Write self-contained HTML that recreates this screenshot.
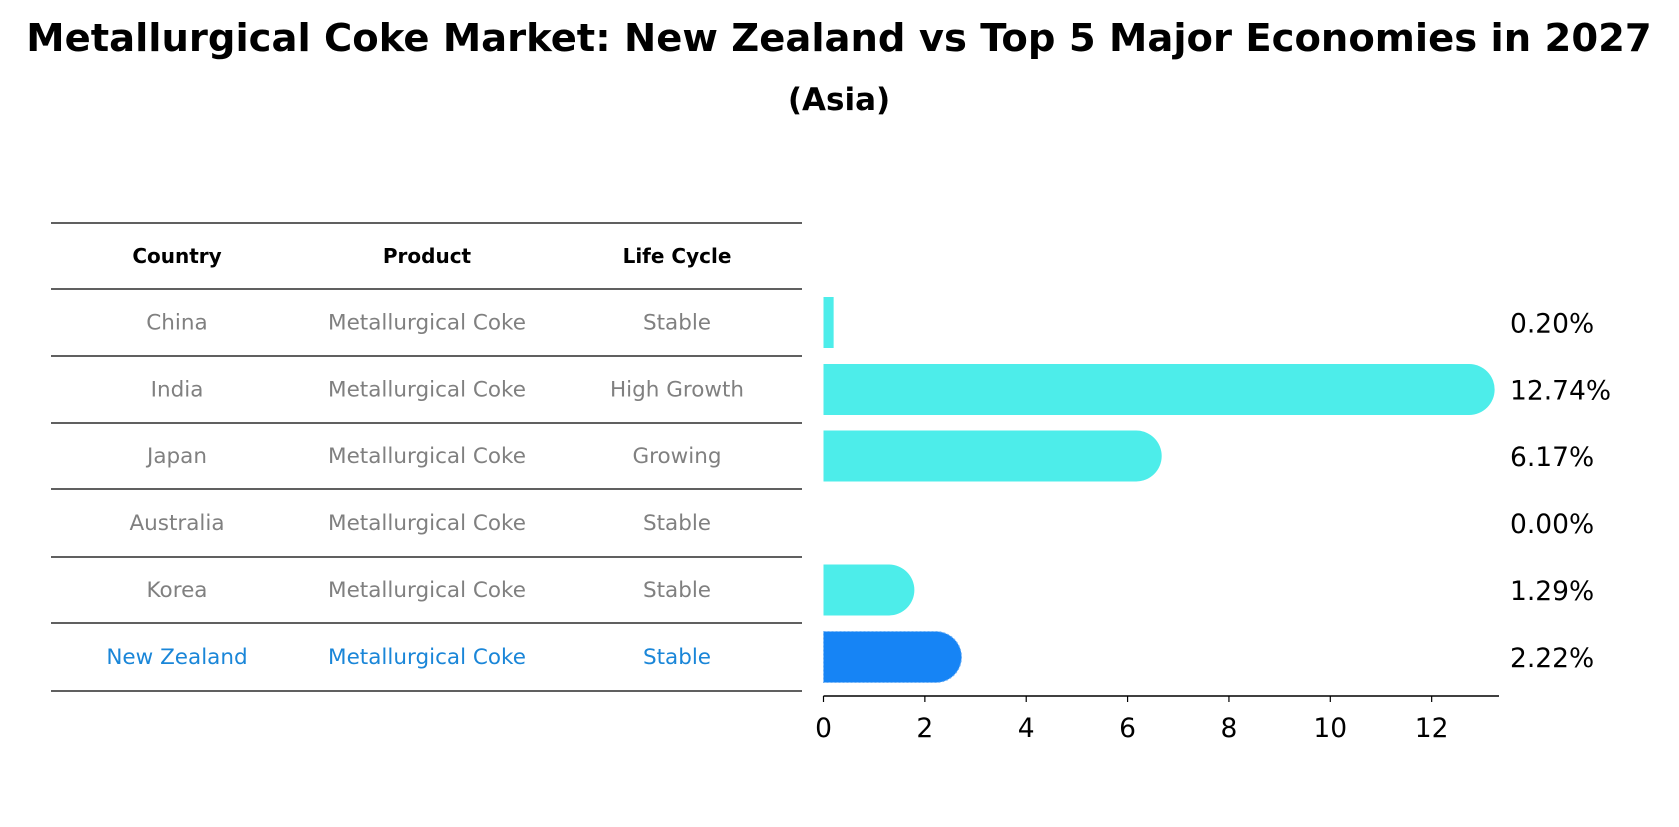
<!DOCTYPE html>
<html><head><meta charset="utf-8"><style>
html,body{margin:0;padding:0;background:#fff;}
body{width:1679px;height:823px;overflow:hidden;font-family:"DejaVu Sans","Liberation Sans",sans-serif;}
</style></head><body>
<svg id="chart" width="1679" height="823" xmlns="http://www.w3.org/2000/svg" font-family="DejaVu Sans, Liberation Sans, sans-serif">
<text x="839" y="51" text-anchor="middle" font-size="38.5" font-weight="bold">Metallurgical Coke Market: New Zealand vs Top 5 Major Economies in 2027</text>
<text x="839" y="110" text-anchor="middle" font-size="31" font-weight="bold">(Asia)</text>
<g id="table"></g>
<g id="bars"></g>
<g id="axis"></g>
</svg>
<script>
const countries = ["China","India","Japan","Australia","Korea","New Zealand"];
const products = ["Metallurgical Coke","Metallurgical Coke","Metallurgical Coke","Metallurgical Coke","Metallurgical Coke","Metallurgical Coke"];
const lifeCycles = ["Stable","High Growth","Growing","Stable","Stable","Stable"];
const values = [0.20, 12.74, 6.17, 0.00, 1.29, 2.22];
const tickLabels = [0,2,4,6,8,10,12];

const NS="http://www.w3.org/2000/svg";
const x0=823.5, unit=50.68, axisY=696, barH=51;
const xs=v=>x0+v*unit;
const lines=[223,289,356,423,489,557,623,691];
const rowY=i=>(lines[i+1]+lines[i+2])/2;
const colX=[177,427,677];
function mk(tag,attrs,parent){const e=document.createElementNS(NS,tag);for(const k in attrs)e.setAttribute(k,attrs[k]);parent.appendChild(e);return e;}
const table=document.getElementById('table');
lines.forEach((y,i)=>{
  const l=mk('line',{x1:51,x2:802,y1:y,y2:y,stroke:'#000','stroke-width':1.2},table);
  
  
});
["Country","Product","Life Cycle"].forEach((h,j)=>{
  const t=mk('text',{x:colX[j],y:(lines[0]+lines[1])/2+7,'text-anchor':'middle','font-size':20,'font-weight':'bold'},table);
  t.textContent=h;
  
  
});
countries.forEach((c,i)=>{
  const col=i===countries.length-1?'#1a86d8':'#808080';
  [c,products[i],lifeCycles[i]].forEach((s,j)=>{
    const t=mk('text',{x:colX[j],y:rowY(i)+7,'text-anchor':'middle','font-size':21.5,fill:col},table);
    t.textContent=s;
    
    
  });
});
const bars=document.getElementById('bars');
values.forEach((v,i)=>{
  const nz=i===values.length-1;
  const fill=nz?'#1684F5':'#4DEDEA';
  const yc=rowY(i), w=xs(v)-x0, r=barH/2;
  let d;
  if(v>=1){d=`M${x0},${yc-r} H${x0+w} A${r},${r} 0 0 1 ${x0+w},${yc+r} H${x0} Z`;}
  else {d=`M${x0},${yc-r} H${x0+w} V${yc+r} H${x0} Z`;}
  if(v>0){
    const p=mk('path',{d:d,fill:fill},bars);
    if(nz){p.setAttribute('stroke','#6fb0f5');p.setAttribute('stroke-dasharray','2 2');p.setAttribute('stroke-width','1');}
    
    
  }
  const t=mk('text',{x:1510,y:yc+10,'font-size':26.5},bars);
  t.textContent=v.toFixed(2)+'%';
  
  
});
const axis=document.getElementById('axis');
const al=mk('line',{x1:x0,x2:1499,y1:axisY,y2:axisY,stroke:'#000','stroke-width':1.5},axis);


tickLabels.forEach(v=>{
  const tk=mk('line',{x1:xs(v),x2:xs(v),y1:axisY,y2:axisY+6,stroke:'#000','stroke-width':1.2},axis);
  
  
  const t=mk('text',{x:xs(v),y:axisY+41,'text-anchor':'middle','font-size':26.5},axis);
  t.textContent=v;
  
  
});
</script>
</body></html>
